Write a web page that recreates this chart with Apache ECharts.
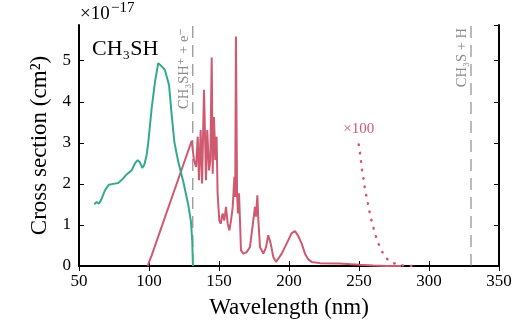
<!DOCTYPE html>
<html><head><meta charset="utf-8">
<script src="https://cdn.jsdelivr.net/npm/echarts@6/dist/echarts.min.js"></script>
<style>html,body{margin:0;padding:0;background:#fff}#c{width:525px;height:325px}</style>
</head><body><div id="c"></div>
<script>
// Units: 1e-17 cm^2
var xTicks = [50, 100, 150, 200, 250, 300, 350];
var yTicks = [0, 1, 2, 3, 4, 5];
var yMax = 5.87;

var ionX = [60.9, 62.6, 64.3, 66.2, 68.6, 71.4, 74.5, 78, 81, 84, 87.6, 90, 91.9, 93.6, 95.2, 96.7, 98.3, 99.5, 101.9, 104.3, 106.6, 107.9, 109.5, 111.4, 112.6, 114.3, 116.2, 118.1, 120.9, 124.5, 128.1, 130, 130.9, 131.4];
var ionY = [1.50, 1.56, 1.52, 1.64, 1.85, 1.98, 2.00, 2.02, 2.11, 2.23, 2.33, 2.50, 2.58, 2.52, 2.39, 2.47, 2.70, 3.02, 3.84, 4.49, 4.94, 4.96, 4.85, 4.77, 4.75, 4.41, 3.68, 3.02, 2.54, 2.05, 1.48, 1.07, 0.59, 0];

var dissX = [99, 101.9, 130.5, 132.1, 133.6, 134.8, 135.7, 136.9, 137.9, 139.3, 140.7, 141.6, 142.9, 143.8, 144.8, 145.5, 146.4, 147.4, 148.3, 149, 150.2, 151.2, 152.6, 153.8, 155, 156.2, 157.4, 158.6, 159.8, 161, 161.6, 162.1, 162.9, 163.6, 164.3, 165, 165.7, 167.4, 169.8, 172.1, 174.5, 175.7, 176.4, 177.4, 178.1, 179.3, 181.7, 183.6, 185.2, 186.9, 188.8, 190.7, 192.4, 194.8, 198.4, 201.9, 204.3, 206.6, 209, 211.4, 213.8, 216.2, 222, 236, 250, 260, 270, 280];
var dissY = [0, 0.26, 3.05, 2.58, 2.41, 3.15, 2.09, 3.31, 2.01, 4.29, 2.09, 3.31, 2.33, 2.58, 5.08, 2.25, 3.63, 2.58, 3.15, 1.77, 1.11, 1.03, 1.28, 1.11, 1.44, 1.03, 0.87, 1.11, 1.44, 2.17, 1.68, 5.59, 1.77, 1.28, 1.77, 1.11, 0.38, 0.30, 0.34, 0.46, 1.11, 1.44, 1.20, 1.72, 1.11, 0.46, 0.30, 0.46, 0.75, 0.55, 0.22, 0.10, 0.18, 0.30, 0.55, 0.80, 0.85, 0.73, 0.55, 0.30, 0.16, 0.10, 0.07, 0.06, 0.03, 0.0095, 0.002, 0.0002];

// tail multiplied by 100
var tailX = [249.8, 250.7, 251.4, 252.1, 253.1, 254, 255, 256.2, 257.3, 258.6, 260.2, 261.7, 263.6, 266, 269, 273.8, 279.3, 285, 290];
var tailY = [2.96, 2.76, 2.55, 2.35, 2.15, 1.94, 1.75, 1.55, 1.35, 1.15, 0.95, 0.76, 0.57, 0.38, 0.20, 0.08, 0.02, 0.004, 0.0005];

var thresholdX = [131.3, 330];
var thresholdLabels = ['CH\u2083SH\u207A + e\u207B', 'CH\u2083S + H'];

var SERIF = '"Liberation Serif", "DejaVu Serif", serif';
var GREEN = '#35a98f';
var RED = '#cf5a70';

function pairs(xs, ys) { return xs.map(function (x, i) { return [x, ys[i]]; }); }

var chart = echarts.init(document.getElementById('c'), null, {renderer: 'canvas'});

var axisCommon = {
  axisLine: {show: true, lineStyle: {color: '#000', width: 2}},
  axisTick: {show: true, inside: true, length: 5, lineStyle: {color: '#000', width: 1}},
  splitLine: {show: false}
};

var series = [
  {type: 'line', name: 'dissociation', data: pairs(dissX, dissY), showSymbol: false, symbol: 'none',
   lineStyle: {color: RED, width: 2}, z: 3},
  {type: 'line', name: 'ionization', data: pairs(ionX, ionY), showSymbol: false, symbol: 'none',
   lineStyle: {color: GREEN, width: 2}, z: 4},
  {type: 'line', name: 'tail x100', data: pairs(tailX, tailY), showSymbol: false, symbol: 'none', smooth: false,
   lineStyle: {color: RED, width: 2.5, type: [0.5, 8], cap: 'round'}, z: 3}
];
thresholdX.forEach(function (tx) {
  series.push({type: 'line', data: [[tx, 0], [tx, yMax]], showSymbol: false, symbol: 'none',
    lineStyle: {color: '#777', width: 1, type: [12, 7]}, z: 2});
});

chart.setOption({
  animation: false,
  backgroundColor: '#fff',
  grid: {left: 79, right: 26, top: 25, bottom: 59},
  xAxis: [
    Object.assign({type: 'value', min: xTicks[0], max: xTicks[xTicks.length - 1], interval: 50, position: 'bottom',
      name: 'Wavelength (nm)', nameLocation: 'middle', nameGap: 30,
      nameTextStyle: {fontFamily: SERIF, fontSize: 23, color: '#000'},
      axisLabel: {fontFamily: SERIF, fontSize: 17, color: '#000', margin: 7}}, axisCommon),
    Object.assign({type: 'value', min: xTicks[0], max: xTicks[xTicks.length - 1], interval: 50, position: 'top',
      axisLabel: {show: false}}, axisCommon)
  ],
  yAxis: [
    Object.assign({type: 'value', min: 0, max: yMax, interval: 1, position: 'left',
      name: 'Cross section (cm\u00B2)', nameLocation: 'middle', nameGap: 27,
      nameTextStyle: {fontFamily: SERIF, fontSize: 23, color: '#000'},
      axisLabel: {fontFamily: SERIF, fontSize: 17, color: '#000', margin: 8, showMaxLabel: false,
        formatter: function (v) { return yTicks.indexOf(v) >= 0 ? String(v) : ''; }}}, axisCommon),
    Object.assign({type: 'value', min: 0, max: yMax, interval: 1, position: 'right',
      axisLabel: {show: false}}, axisCommon)
  ],
  series: series
});

var g = [];
var p0 = chart.convertToPixel({xAxisIndex: 0, yAxisIndex: 0}, [xTicks[0], yMax]);
g.push({type: 'text', x: p0[0] + 1, y: p0[1] - 20, style: {text: '\u00D710', font: '19px ' + SERIF, fill: '#000'}});
g.push({type: 'text', x: p0[0] + 32, y: p0[1] - 24, style: {text: '\u221217', font: '15px ' + SERIF, fill: '#000'}});
g.push({type: 'text', x: p0[0] + 13, y: p0[1] + 13.5, style: {text: 'CH\u2083SH', font: '22px ' + SERIF, fill: '#000'}});
thresholdX.forEach(function (tx, i) {
  var p = chart.convertToPixel({xAxisIndex: 0, yAxisIndex: 0}, [tx, yMax]);
  g.push({type: 'text', x: p[0] - 16, y: p[1] + 3, rotation: Math.PI / 2,
    style: {text: thresholdLabels[i], font: '14.5px ' + SERIF, fill: '#8c8c8c', align: 'right', verticalAlign: 'top'}});
});
var pl = chart.convertToPixel({xAxisIndex: 0, yAxisIndex: 0}, [tailX[0], tailY[0]]);
g.push({type: 'text', x: pl[0], y: pl[1] - 8, style: {text: '\u00D7100', font: '15px ' + SERIF, fill: RED, align: 'center', verticalAlign: 'bottom'}});
chart.setOption({graphic: g});
</script></body></html>
